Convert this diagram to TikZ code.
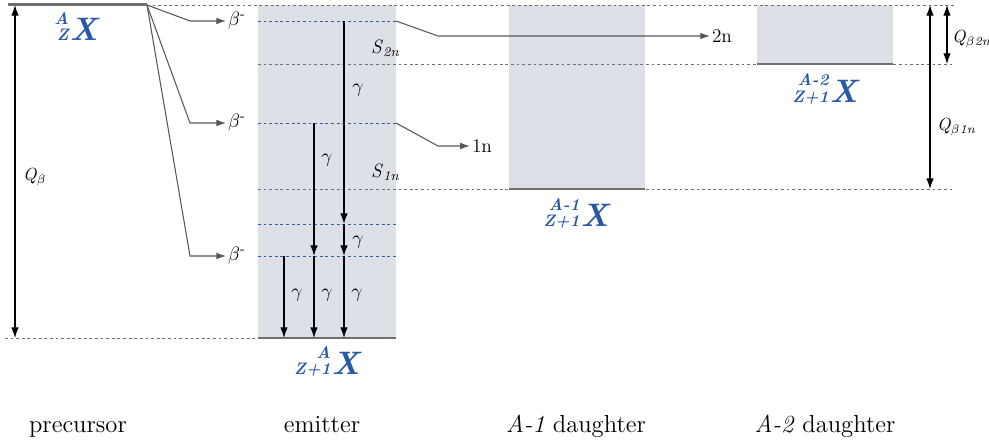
\RequirePackage{fix-cm}
\documentclass[tikz,border=0pt]{standalone}
\usepackage{fontspec}
\usepackage{xcolor}
\usetikzlibrary{arrows.meta, positioning}

\definecolor{nucblue}{HTML}{2A58A6}
\definecolor{bandgray}{HTML}{DEE0E7}
\definecolor{levelgray}{HTML}{6E6F72}
\definecolor{dotgray}{HTML}{707070}
\definecolor{dotblue}{HTML}{2F5DB0}
\definecolor{betagray}{HTML}{555759}

% nuclide symbol with left-hand scripts
\newcommand\nucl[2]{{\fontsize{9.5}{9.5}\selectfont\shortstack[r]{#1\\#2}}\kern0.5pt{\fontsize{18.5}{18.5}\selectfont X}}

\begin{document}
\begin{tikzpicture}[
  x=0.02cm, y=-0.02cm,
  every node/.style={font=\fontsize{11}{13}\selectfont},
  level/.style={draw=levelgray, line width=1.7pt},
  dotline/.style={draw=dotgray, line width=0.45pt, dash pattern=on 1.6pt off 1.6pt},
  bluedot/.style={draw=dotblue, line width=0.55pt, dash pattern=on 1.6pt off 1.6pt},
  gam/.style={draw=black, line width=0.6pt, -{Latex[length=6pt,width=4.2pt]}},
  qarr/.style={draw=black, line width=0.6pt, {Latex[length=6pt,width=4.2pt]}-{Latex[length=6pt,width=4.2pt]}},
  betaline/.style={draw=betagray, line width=0.6pt, -{Latex[length=5.5pt,width=3.8pt]}},
  lbl/.style={inner sep=1pt},
  qlbl/.style={inner sep=1pt, anchor=west, font=\fontsize{10}{12}\selectfont},
  nuclide/.style={font=\bfseries\itshape, text=nucblue, inner sep=0pt, anchor=base},
  caption/.style={font=\fontsize{14}{17}\selectfont, anchor=base}
]
  \useasboundingbox (0,0) rectangle (989,445);

  % bands of the three nuclei
  \fill[bandgray] (258,5) rectangle (396,338);
  \fill[bandgray] (509,5) rectangle (645,189);
  \fill[bandgray] (757,5) rectangle (893,64);

  % reference levels
  \draw[dotline] (147,5) -- (955,5);
  \draw[dotline] (258,64) -- (955,64);
  \draw[dotline] (258,189) -- (955,189);
  \draw[dotline] (5,338) -- (258,338);
  \foreach \y in {21,123,224,256} \draw[bluedot] (258,\y) -- (396,\y);

  % ground states
  \draw[level] (8,5) -- (147,5);
  \draw[level] (258,338) -- (396,338);
  \draw[level] (509,189) -- (645,189);
  \draw[level] (757,64) -- (893,64);

  % level points in the emitter
  \foreach \x/\n in {284/a, 314/b, 344/c}
    \foreach \y/\m in {21/1, 123/2, 224/3, 256/4, 338/5}
      \coordinate (\n\m) at (\x,\y);
  \coordinate (pre) at (147,5);
  \coordinate (e1) at (396,21);
  \coordinate (e2) at (396,123);

  % beta feeding
  \node[lbl] (beta1) at (237,21)  {$\beta$\textsuperscript{-}};
  \node[lbl] (beta2) at (237,123) {$\beta$\textsuperscript{-}};
  \node[lbl] (beta3) at (237,256) {$\beta$\textsuperscript{-}};
  \draw[betaline] (pre) -- (190,21)  -- (beta1.west);
  \draw[betaline] (pre) -- (190,123) -- (beta2.west);
  \draw[betaline] (pre) -- (190,256) -- (beta3.west);

  % neutron emission
  \node[lbl] (n2) at (722,36)  {2n};
  \node[lbl] (n1) at (482,146) {1n};
  \draw[betaline] (e1) -- (438,36)  -- (n2.west);
  \draw[betaline] (e2) -- (438,146) -- (n1.west);

  % gamma cascades
  \draw[gam] (c1) -- (c3);
  \draw[gam] (c3) -- (c4);
  \draw[gam] (c4) -- (c5);
  \draw[gam] (b2) -- (b4);
  \draw[gam] (b4) -- (b5);
  \draw[gam] (a4) -- (a5);
  \node[lbl] (g1) at (358,90)  {$\gamma$};
  \node[lbl] (g2) at (327,160) {$\gamma$};
  \node[lbl] (g3) at (358,242) {$\gamma$};
  \node[lbl] (g4) at (297,295) {$\gamma$};
  \node[lbl] (g5) at (327,295) {$\gamma$};
  \node[lbl] (g6) at (357,295) {$\gamma$};

  % separation energies
  \node[lbl, anchor=west] (s2n) at (369,48)
    {\textit{S}\textsubscript{\textit{2n}}};
  \node[lbl, anchor=west] (s1n) at (369,172)
    {\textit{S}\textsubscript{\textit{1n}}};

  % Q values
  \coordinate (qbt) at (15,5);    \coordinate (qbb) at (15,338);
  \coordinate (q1t) at (930,5);   \coordinate (q1b) at (930,189);
  \coordinate (q2t) at (947,5);   \coordinate (q2b) at (947,64);
  \draw[qarr] (qbt) -- (qbb);
  \draw[qarr] (q1t) -- (q1b);
  \draw[qarr] (q2t) -- (q2b);
  \node[qlbl] (qb) at (21,177) {\textit{Q}\textsubscript{$\beta$}};
  \node[qlbl] (qb1n) at (935,127) {\textit{Q}\textsubscript{$\beta$\textit{1n}}};
  \node[qlbl] (qb2n) at (950,39) {\textit{Q}\textsubscript{$\beta$\textit{2n}}};

  % nuclide symbols
  \node[nuclide] (xpre) at (76,41)   {\nucl{A}{Z}};
  \node[nuclide] (xemi) at (327,375) {\nucl{A}{Z+1}};
  \node[nuclide] (xd1)  at (576,227) {\nucl{A-1}{Z+1}};
  \node[nuclide] (xd2)  at (825,103) {\nucl{A-2}{Z+1}};

  % captions
  \node[caption] (cpre) at (78,432)  {precursor};
  \node[caption] (cemi) at (322,432) {emitter};
  \node[caption] (cd1)  at (576,432) {\textit{A-1} daughter};
  \node[caption] (cd2)  at (825,432) {\textit{A-2} daughter};
\end{tikzpicture}
\end{document}
